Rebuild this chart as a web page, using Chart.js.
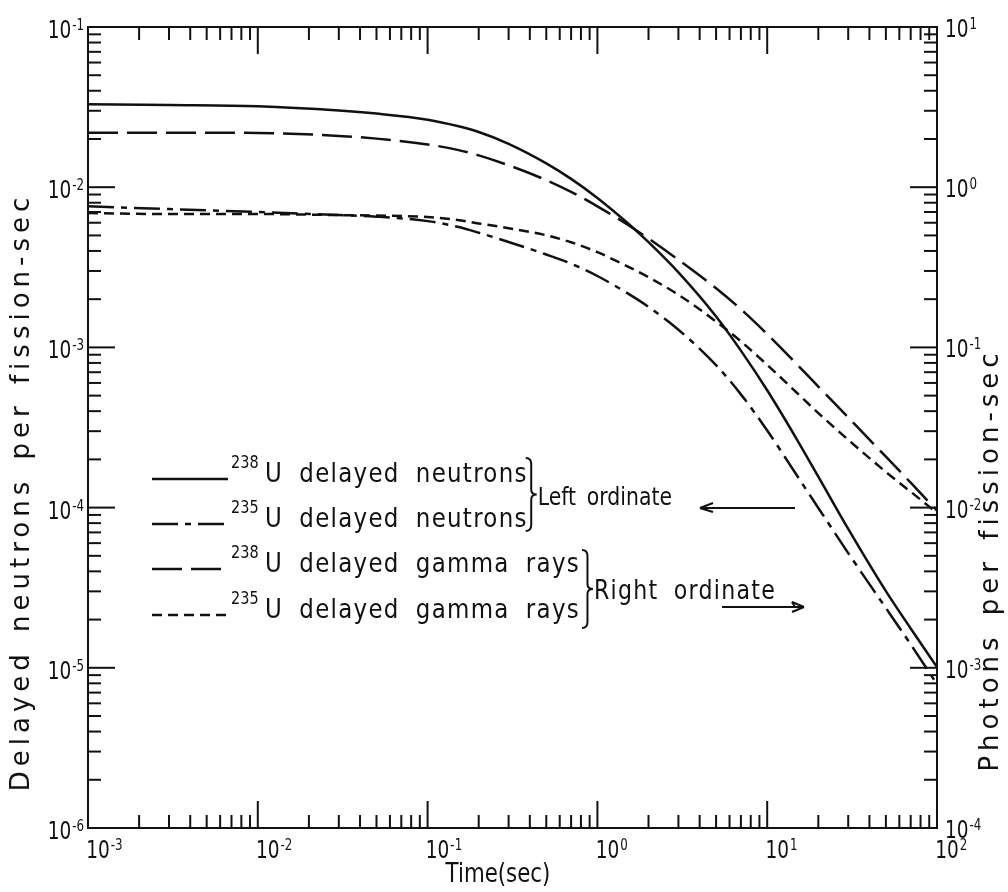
<!DOCTYPE html>
<html>
<head>
<meta charset="utf-8">
<title>Delayed neutrons and gamma rays per fission</title>
<script src="https://cdn.jsdelivr.net/npm/chart.js@4.4.0/dist/chart.umd.min.js"></script>
<style>
  html, body { margin: 0; padding: 0; background: #fff; }
  #chart { display: block; }
</style>
</head>
<body>
<canvas id="chart" width="1008" height="892"></canvas>
<script>
var times = [0.001, 0.003, 0.01, 0.03, 0.05, 0.1, 0.15, 0.2, 0.3, 0.5, 0.7, 1, 1.5, 2, 3, 5, 7, 10, 15, 20, 30, 50, 70, 100];

// Left ordinate: delayed neutrons per fission-sec
var u238Neutrons = [0.0330, 0.0326, 0.0320, 0.0301, 0.0288, 0.0264, 0.0241, 0.0221, 0.01866, 0.01409, 0.01127, 0.00857, 0.0060, 0.00454, 0.00294, 0.00156, 0.000955, 0.000540, 0.000265, 0.000156, 0.0000736, 0.0000301, 0.0000176, 0.0000101];
var u235Neutrons = [0.0076, 0.0073, 0.0070, 0.0067, 0.00655, 0.00614, 0.00566, 0.0052, 0.00455, 0.0038, 0.00333, 0.00279, 0.00218, 0.00179, 0.00129, 0.000774, 0.000509, 0.000303, 0.000158, 0.0000995, 0.0000520, 0.0000236, 0.0000140, 0.0000079];

// Right ordinate: photons per fission-sec
var u238Gamma = [2.19, 2.19, 2.18, 2.09, 2.01, 1.85, 1.71, 1.58, 1.37, 1.107, 0.935, 0.760, 0.585, 0.478, 0.352, 0.234, 0.173, 0.121, 0.0782, 0.0570, 0.0365, 0.0208, 0.0143, 0.00957];
var u235Gamma = [0.69, 0.68, 0.68, 0.67, 0.665, 0.652, 0.625, 0.594, 0.555, 0.501, 0.453, 0.393, 0.321, 0.274, 0.213, 0.145, 0.109, 0.0778, 0.0519, 0.0389, 0.0265, 0.0167, 0.01256, 0.00927];

// Axis decades (exponents of ten)
var xDecades = [-3, -2, -1, 0, 1, 2];
var leftDecades = [-6, -5, -4, -3, -2, -1];
var rightDecades = [-4, -3, -2, -1, 0, 1];

// Legend text
var legendIsotopes = ['238', '235', '238', '235'];
var legendLabels = ['U delayed neutrons', 'U delayed neutrons', 'U delayed gamma rays', 'U delayed gamma rays'];

var FONT = '"DejaVu Sans", "Liberation Sans", sans-serif';
var INK = '#111';

function points(values) {
    return times.map(function (t, i) { return { x: t, y: values[i] }; });
}

// major ticks on decades, minor ticks at 2..9 inside each decade
function logTicks(decades) {
    var out = [];
    decades.forEach(function (k, i) {
        out.push({ v: Math.pow(10, k), major: true });
        if (i < decades.length - 1) {
            for (var m = 2; m <= 9; m++) out.push({ v: m * Math.pow(10, k), major: false });
        }
    });
    return out;
}

function line(ctx, x1, y1, x2, y2) {
    ctx.beginPath();
    ctx.moveTo(x1, y1);
    ctx.lineTo(x2, y2);
    ctx.stroke();
}

function textWidth(ctx, text, size, sx, ls, ws) {
    ctx.save();
    ctx.font = size + 'px ' + FONT;
    ctx.letterSpacing = (ls || 0) + 'px';
    ctx.wordSpacing = (ws || 0) + 'px';
    var w = ctx.measureText(text).width * sx;
    ctx.restore();
    return w;
}

// text squeezed horizontally to look like the narrow stencil lettering; returns drawn width
function squeezed(ctx, text, x, y, size, sx, ls, ws) {
    var w = textWidth(ctx, text, size, sx, ls, ws);
    ctx.save();
    ctx.font = size + 'px ' + FONT;
    ctx.letterSpacing = (ls || 0) + 'px';
    ctx.wordSpacing = (ws || 0) + 'px';
    ctx.translate(x, y);
    ctx.scale(sx, 1);
    ctx.fillText(text, 0, 0);
    ctx.restore();
    return w;
}

// "10" with a raised exponent, y is the vertical middle of "10"
function drawPow(ctx, x, y, exp, align) {
    var sx = 0.74;
    var wBase = textWidth(ctx, '10', 25, sx);
    var wExp = textWidth(ctx, exp, 16, sx);
    var left = x;
    if (align === 'center') left = x - wBase / 2;
    else if (align === 'right') left = x - wBase - wExp - 1;
    ctx.textAlign = 'left';
    ctx.textBaseline = 'alphabetic';
    squeezed(ctx, '10', left, y + 9, 25, sx);
    squeezed(ctx, exp, left + wBase + 1, y + 1, 16, sx);
}

function drawBrace(ctx, x, y1, y2) {
    var ym = (y1 + y2) / 2, w = 11;
    ctx.beginPath();
    ctx.moveTo(x, y1);
    ctx.quadraticCurveTo(x + w / 2, y1, x + w / 2, y1 + 6);
    ctx.lineTo(x + w / 2, ym - 5);
    ctx.quadraticCurveTo(x + w / 2, ym, x + w, ym);
    ctx.quadraticCurveTo(x + w / 2, ym, x + w / 2, ym + 5);
    ctx.lineTo(x + w / 2, y2 - 6);
    ctx.quadraticCurveTo(x + w / 2, y2, x, y2);
    ctx.stroke();
}

var frameAndLabels = {
    id: 'frameAndLabels',
    beforeDraw: function (chart) {
        var ctx = chart.ctx;
        ctx.save();
        ctx.fillStyle = '#fff';
        ctx.fillRect(0, 0, chart.width, chart.height);
        ctx.restore();
    },
    afterDraw: function (chart) {
        var ctx = chart.ctx;
        var a = chart.chartArea;
        var xs = chart.scales.x, yl = chart.scales.y, yr = chart.scales.y2;
        ctx.save();
        ctx.strokeStyle = INK;
        ctx.fillStyle = INK;
        ctx.lineWidth = 2;
        ctx.setLineDash([]);
        ctx.strokeRect(a.left, a.top, a.right - a.left, a.bottom - a.top);

        // inward ticks on all four sides
        logTicks(xDecades).forEach(function (t) {
            var px = xs.getPixelForValue(t.v);
            var len = t.major ? 27 : 13;
            line(ctx, px, a.bottom, px, a.bottom - len);
            line(ctx, px, a.top, px, a.top + len);
        });
        logTicks(leftDecades).forEach(function (t) {
            var py = yl.getPixelForValue(t.v);
            line(ctx, a.left, py, a.left + (t.major ? 27 : 13), py);
        });
        logTicks(rightDecades).forEach(function (t) {
            var py = yr.getPixelForValue(t.v);
            line(ctx, a.right, py, a.right - (t.major ? 27 : 13), py);
        });

        // tick labels
        xDecades.forEach(function (k) {
            drawPow(ctx, xs.getPixelForValue(Math.pow(10, k)) + 10, a.bottom + 21, String(k), 'center');
        });
        leftDecades.forEach(function (k) {
            drawPow(ctx, a.left - 4, yl.getPixelForValue(Math.pow(10, k)) + 2, String(k), 'right');
        });
        rightDecades.forEach(function (k) {
            drawPow(ctx, a.right + 8, yr.getPixelForValue(Math.pow(10, k)) + 1, String(k), 'left');
        });

        // axis titles
        ctx.textAlign = 'left';
        ctx.textBaseline = 'alphabetic';
        var wt = textWidth(ctx, 'Time(sec)', 26, 0.82);
        squeezed(ctx, 'Time(sec)', 498 - wt / 2, 882, 26, 0.82);

        ctx.font = '26px ' + FONT;
        ctx.letterSpacing = '5px';
        ctx.wordSpacing = '4px';
        ctx.textAlign = 'center';
        ctx.textBaseline = 'middle';
        ctx.save();
        ctx.translate(22, 492);
        ctx.rotate(-Math.PI / 2);
        ctx.fillText('Delayed neutrons per fission-sec', 0, 0);
        ctx.restore();
        ctx.save();
        ctx.translate(991, 560);
        ctx.rotate(-Math.PI / 2);
        ctx.fillText('Photons per fission-sec', 0, 0);
        ctx.restore();
        ctx.letterSpacing = '0px';
        ctx.wordSpacing = '0px';

        // legend
        var rowY = [482, 527, 572, 618];
        var ends = [];
        ctx.textAlign = 'left';
        ctx.textBaseline = 'alphabetic';
        chart.data.datasets.forEach(function (ds, i) {
            var yb = rowY[i];
            ctx.lineWidth = 2.5;
            ctx.setLineDash(ds.borderDash || []);
            line(ctx, 152, yb - 3, 228, yb - 3);
            ctx.setLineDash([]);
            squeezed(ctx, legendIsotopes[i], 231, yb - 14, 17, 0.85);
            var w = squeezed(ctx, legendLabels[i], 265, yb, 27, 0.85, 1.5, 9);
            ends.push(265 + w);
        });

        ctx.lineWidth = 2;
        var top1 = rowY[0] - 24, bot1 = rowY[1] + 4;
        var top2 = rowY[2] - 22, bot2 = rowY[3] + 10;
        var b1 = Math.max(ends[0], ends[1]) - 2;
        drawBrace(ctx, b1, top1, bot1);
        var b2 = Math.max(ends[2], ends[3]) + 2;
        drawBrace(ctx, b2, top2, bot2);

        squeezed(ctx, 'Left ordinate', b1 + 12, (top1 + bot1) / 2 + 10, 24, 0.85, 0, 5);
        squeezed(ctx, 'Right ordinate', b2 + 12, (top2 + bot2) / 2 + 10, 26, 0.85, 1.5, 8);

        // arrows pointing to the ordinate each pair belongs to
        line(ctx, 795, 508, 700, 508);
        line(ctx, 700, 508, 713, 503);
        line(ctx, 700, 508, 713, 512);
        line(ctx, 722, 607, 804, 607);
        line(ctx, 804, 607, 792, 602);
        line(ctx, 804, 607, 792, 612);
        line(ctx, 792, 602, 795, 607);

        ctx.restore();
    }
};

var common = {
    borderColor: INK,
    borderWidth: 2.5,
    pointRadius: 0,
    fill: false,
    cubicInterpolationMode: 'monotone',
    borderCapStyle: 'butt'
};

new Chart(document.getElementById('chart').getContext('2d'), {
    type: 'line',
    data: {
        datasets: [
            Object.assign({ label: '238U delayed neutrons', data: points(u238Neutrons), yAxisID: 'y', borderDash: [] }, common),
            Object.assign({ label: '235U delayed neutrons', data: points(u235Neutrons), yAxisID: 'y', borderDash: [26, 7, 6, 7] }, common),
            Object.assign({ label: '238U delayed gamma rays', data: points(u238Gamma), yAxisID: 'y2', borderDash: [30, 9] }, common),
            Object.assign({ label: '235U delayed gamma rays', data: points(u235Gamma), yAxisID: 'y2', borderDash: [10, 6] }, common)
        ]
    },
    options: {
        responsive: false,
        animation: false,
        devicePixelRatio: 1,
        layout: { padding: { left: 88, right: 71, top: 27, bottom: 64 } },
        plugins: { legend: { display: false }, tooltip: { enabled: false } },
        scales: {
            x: { type: 'logarithmic', min: 0.001, max: 100, display: false },
            y: { type: 'logarithmic', position: 'left', min: 1e-6, max: 1e-1, display: false },
            y2: { type: 'logarithmic', position: 'right', min: 1e-4, max: 10, display: false }
        }
    },
    plugins: [frameAndLabels]
});
</script>
</body>
</html>
